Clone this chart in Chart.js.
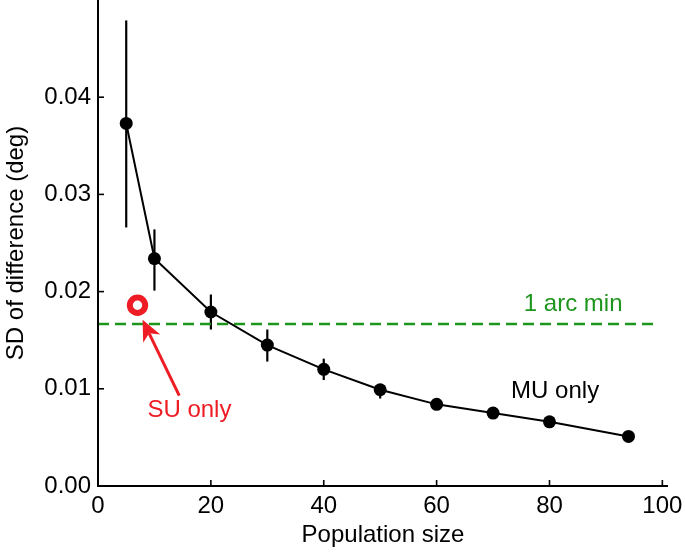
<!DOCTYPE html>
<html>
<head>
<meta charset="utf-8">
<script src="https://cdn.jsdelivr.net/npm/chart.js@4/dist/chart.umd.min.js"></script>
<style>
  html, body { margin: 0; padding: 0; background: #fff; }
  #wrap { width: 685px; height: 552px; }
</style>
</head>
<body>
<div id="wrap"><canvas id="c" width="685" height="552"></canvas></div>
<script>
// ---- data ----
const popSize   = [5, 10, 20, 30, 40, 50, 60, 70, 80, 94];
const sdMU      = [0.0373, 0.0234, 0.0179, 0.0145, 0.0120, 0.0099, 0.0084, 0.0075, 0.0066, 0.0051];
const errLow    = [0.0266, 0.0201, 0.0161, 0.0128, 0.0109, 0.0090, 0.0081, 0.0073, 0.0064, 0.0050];
const errHigh   = [0.0479, 0.0264, 0.0197, 0.0161, 0.0131, 0.0105, 0.0087, 0.0077, 0.0068, 0.0052];
const suSize    = [7];
const sdSU      = [0.0186];
const arcMinX   = [0, 99];
const arcMinVal = 1 / 60; // 1 arc min in deg
const arcMinY   = [arcMinVal, arcMinVal];
const xTicks    = [0, 20, 40, 60, 80, 100];
const yTicks    = [0.00, 0.01, 0.02, 0.03, 0.04];

const FONT = '"Liberation Sans", Arial, Helvetica, sans-serif';
const FS = 24;
const RED = 'rgb(238,28,36)';
const GREEN = 'rgb(30,150,30)';

const muData = popSize.map((x, i) => ({ x, y: sdMU[i] }));
const suData = suSize.map((x, i) => ({ x, y: sdSU[i] }));
const arcData = arcMinX.map((x, i) => ({ x, y: arcMinY[i] }));

const notes = [
  { text: '1 arc min', x: 84.2, y: 0.0187, color: GREEN },
  { text: 'MU only',   x: 81.0, y: 0.0097, color: '#000' },
  { text: 'SU only',   x: 16.2, y: 0.0078, color: RED }
];
const arrow = { from: { x: 14.4, y: 0.0093 }, to: { x: 7.9, y: 0.0171 } };

const extras = {
  id: 'extras',
  beforeDatasetsDraw(chart) {
    const ctx = chart.ctx, xs = chart.scales.x, ys = chart.scales.y;
    ctx.save();
    ctx.strokeStyle = '#000';
    ctx.lineWidth = 2.2;
    popSize.forEach((v, i) => {
      const px = xs.getPixelForValue(v);
      ctx.beginPath();
      ctx.moveTo(px, ys.getPixelForValue(errLow[i]));
      ctx.lineTo(px, ys.getPixelForValue(errHigh[i]));
      ctx.stroke();
    });
    ctx.restore();
  },
  afterDraw(chart) {
    const ctx = chart.ctx, xs = chart.scales.x, ys = chart.scales.y;
    const ca = chart.chartArea;
    ctx.save();
    ctx.strokeStyle = '#000';
    ctx.lineWidth = 2;
    ctx.beginPath();
    ctx.moveTo(ca.left, 0);
    ctx.lineTo(ca.left, ca.bottom);
    ctx.lineTo(ca.right, ca.bottom);
    ctx.stroke();
    ctx.lineWidth = 1.6;
    xTicks.forEach(v => {
      const px = xs.getPixelForValue(v);
      ctx.beginPath(); ctx.moveTo(px, ca.bottom); ctx.lineTo(px, ca.bottom - 6); ctx.stroke();
    });
    yTicks.forEach(v => {
      const py = ys.getPixelForValue(v);
      ctx.beginPath(); ctx.moveTo(ca.left, py); ctx.lineTo(ca.left + 6, py); ctx.stroke();
    });
    ctx.font = FS + 'px ' + FONT;
    ctx.textAlign = 'center';
    ctx.textBaseline = 'middle';
    notes.forEach(n => {
      ctx.fillStyle = n.color;
      ctx.fillText(n.text, xs.getPixelForValue(n.x), ys.getPixelForValue(n.y));
    });
    const x1 = xs.getPixelForValue(arrow.from.x), y1 = ys.getPixelForValue(arrow.from.y);
    const x2 = xs.getPixelForValue(arrow.to.x), y2 = ys.getPixelForValue(arrow.to.y);
    const ang = Math.atan2(y2 - y1, x2 - x1);
    const hl = 21, hw = 9.5;
    const bx = x2 - hl * Math.cos(ang), by = y2 - hl * Math.sin(ang);
    ctx.strokeStyle = RED;
    ctx.fillStyle = RED;
    ctx.lineWidth = 3;
    ctx.beginPath(); ctx.moveTo(x1, y1); ctx.lineTo(bx + 6 * Math.cos(ang), by + 6 * Math.sin(ang)); ctx.stroke();
    ctx.beginPath();
    ctx.moveTo(x2, y2);
    ctx.lineTo(bx + hw * Math.sin(ang), by - hw * Math.cos(ang));
    ctx.lineTo(x2 - (hl - 6) * Math.cos(ang), y2 - (hl - 6) * Math.sin(ang));
    ctx.lineTo(bx - hw * Math.sin(ang), by + hw * Math.cos(ang));
    ctx.closePath();
    ctx.fill();
    ctx.restore();
  }
};

new Chart(document.getElementById('c'), {
  type: 'scatter',
  data: {
    datasets: [
      {
        label: '1 arc min',
        data: arcData,
        showLine: true,
        borderColor: GREEN,
        borderWidth: 2.5,
        borderDash: [11, 6],
        pointRadius: 0,
        order: 3
      },
      {
        label: 'MU only',
        data: muData,
        showLine: true,
        borderColor: '#000',
        borderWidth: 2,
        backgroundColor: '#000',
        pointRadius: 6.5,
        pointBorderWidth: 0,
        order: 1
      },
      {
        label: 'SU only',
        data: suData,
        borderColor: RED,
        backgroundColor: '#fff',
        pointRadius: 7.7,
        pointBorderWidth: 6,
        order: 2
      }
    ]
  },
  options: {
    responsive: false,
    animation: false,
    devicePixelRatio: 1,
    layout: { autoPadding: false, padding: { top: 0, right: 17, left: 0, bottom: 0 } },
    plugins: { legend: { display: false }, tooltip: { enabled: false } },
    scales: {
      x: {
        type: 'linear',
        min: 0, max: 101,
        afterBuildTicks: s => { s.ticks = xTicks.map(v => ({ value: v })); },
        afterFit: s => { s.height = 66; s.paddingLeft = 0; s.paddingRight = 0; },
        grid: { display: false, drawTicks: false },
        border: { display: false },
        ticks: { color: '#000', font: { family: FONT, size: FS }, padding: 6, maxRotation: 0 },
        title: { display: true, text: 'Population size', color: '#000', font: { family: FONT, size: FS }, padding: { top: 0, bottom: 2 } }
      },
      y: {
        type: 'linear',
        min: 0, max: 0.05,
        afterBuildTicks: s => { s.ticks = yTicks.map(v => ({ value: v })); },
        afterFit: s => { s.width = 98; s.paddingTop = 0; s.paddingBottom = 0; },
        grid: { display: false, drawTicks: false },
        border: { display: false },
        ticks: { color: '#000', font: { family: FONT, size: FS }, padding: 7, callback: v => v.toFixed(2) },
        title: { display: true, text: 'SD of difference (deg)', color: '#000', font: { family: FONT, size: FS }, padding: { top: 2, bottom: 0 } }
      }
    }
  },
  plugins: [extras]
});
</script>
</body>
</html>
